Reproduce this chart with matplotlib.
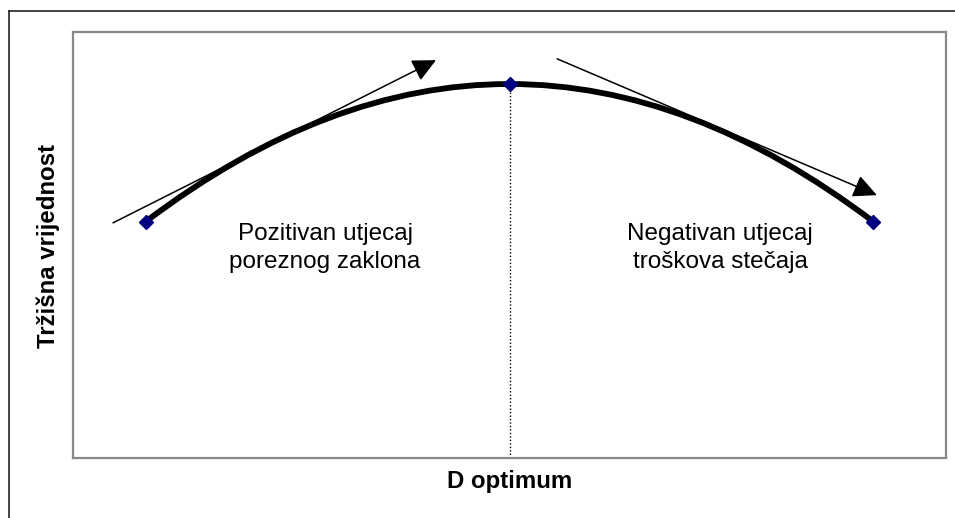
import matplotlib
matplotlib.use("Agg")
import matplotlib.pyplot as plt
from matplotlib.path import Path
from matplotlib.patches import PathPatch
from matplotlib.lines import Line2D

plt.rcParams['font.family'] = ['Liberation Sans', 'DejaVu Sans']

# data: three points of the value curve (debt level vs market value)
x_pts = [0, 1, 2]
y_pts = [55.5, 87.8, 55.5]
y_label = "Tržišna vrijednost"
x_label = "D optimum"
left_note = "Pozitivan utjecaj\nporeznog zaklona"
right_note = "Negativan utjecaj\ntroškova stečaja"

fig = plt.figure(figsize=(9.55, 5.18), dpi=100)
ax = fig.add_axes([73 / 955, 60 / 518, 873 / 955, 426 / 518])
ax.set_xlim(-0.2, 2.2)
ax.set_ylim(0, 100)
ax.set_xticks([])
ax.set_yticks([])
for sp in ax.spines.values():
    sp.set_color('#888888')
    sp.set_linewidth(1.6)

# smoothed curve through the three points (quadratic bezier, vertex at middle point)
ctrl = (x_pts[1], 2 * y_pts[1] - (y_pts[0] + y_pts[2]) / 2)
path = Path([(x_pts[0], y_pts[0]), ctrl, (x_pts[2], y_pts[2])],
            [Path.MOVETO, Path.CURVE3, Path.CURVE3])
ax.add_patch(PathPatch(path, fill=False, lw=4.2, color='black', capstyle='round', zorder=3))

# dotted line down from the optimum
ax.plot([x_pts[1], x_pts[1]], [0, y_pts[1]], color='black', lw=1, ls=(0, (1, 1.5)), zorder=2)

ax.plot(x_pts, y_pts, ls='none', marker='D', ms=7, color='#000080', zorder=4)

# tangent arrows
arr = dict(arrowstyle='-|>,head_length=1.45,head_width=0.7', color='black', lw=1.1,
           shrinkA=0, shrinkB=0)
ax.annotate('', xy=(0.798, 93.4), xytext=(-0.09, 55.2), arrowprops=arr, zorder=5)
ax.annotate('', xy=(2.01, 61.7), xytext=(1.131, 93.7), arrowprops=arr, zorder=5)

ax.text(0.493, 49.3, left_note, ha='center', va='center', fontsize=17.5, linespacing=1.33)
ax.text(1.579, 49.3, right_note, ha='center', va='center', fontsize=17.5, linespacing=1.33)

fig.text(48 / 955, 1 - 245.6 / 518, y_label, rotation=90, ha='center', va='center',
         fontsize=17.3, fontweight='bold')
fig.text(509.5 / 955, 1 - 488 / 518, x_label, ha='center', va='baseline',
         fontsize=17.3, fontweight='bold')

# outer chart border (only left and top edges are inside the picture)
yt = 1 - 10.5 / 518
xl = 8.5 / 955
fig.add_artist(Line2D([xl, xl], [0, yt], transform=fig.transFigure, color='#222222', lw=1.2))
fig.add_artist(Line2D([xl, 1], [yt, yt], transform=fig.transFigure, color='#222222', lw=1.2))

fig.savefig('out.png', dpi=100)
